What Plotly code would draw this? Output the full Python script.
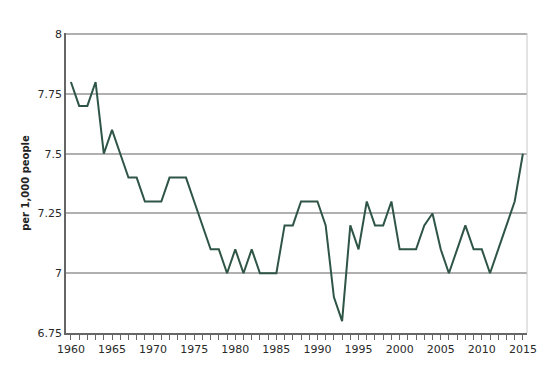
import plotly.graph_objects as go

years = list(range(1960, 2016))
values = [7.8, 7.7, 7.7, 7.8, 7.5, 7.6, 7.5, 7.4, 7.4, 7.3,
          7.3, 7.3, 7.4, 7.4, 7.4, 7.3, 7.2, 7.1, 7.1, 7.0,
          7.1, 7.0, 7.1, 7.0, 7.0, 7.0, 7.2, 7.2, 7.3, 7.3,
          7.3, 7.2, 6.9, 6.8, 7.2, 7.1, 7.3, 7.2, 7.2, 7.3,
          7.1, 7.1, 7.1, 7.2, 7.25, 7.1, 7.0, 7.1, 7.2, 7.1,
          7.1, 7.0, 7.1, 7.2, 7.3, 7.5]
y_ticks = [6.75, 7, 7.25, 7.5, 7.75, 8]
y_labels = ["6.75", "7", "7.25", "7.5", "7.75", "8"]
x_ticks = [1960, 1965, 1970, 1975, 1980, 1985, 1990, 1995, 2000, 2005, 2010, 2015]

fig = go.Figure(go.Scatter(x=years, y=values, mode="lines",
                           line=dict(color="#2e5546", width=2)))

fig.update_layout(
    width=550, height=368,
    margin=dict(l=58, r=31, t=25, b=43),
    plot_bgcolor="white", paper_bgcolor="white",
    font=dict(family="DejaVu Sans", size=11, color="#2a2a2a"),
    showlegend=False,
)
fig.update_xaxes(
    range=[1959.4, 2015.5], tickvals=x_ticks, ticktext=[str(v) for v in x_ticks],
    showgrid=False, showline=True, linecolor="#666666", linewidth=1.5,
    ticks="outside", ticklen=5, tickcolor="#666666",
    minor=dict(dtick=1, tick0=1960, ticks="outside", ticklen=5, tickcolor="#666666", showgrid=False),
    mirror=False, zeroline=False,
)
fig.update_yaxes(
    range=[6.75, 8.005], tickvals=y_ticks, ticktext=y_labels,
    showgrid=True, gridcolor="#b0b0b0", gridwidth=1.5,
    showline=True, linecolor="#666666", linewidth=1.5,
    ticks="", zeroline=False,
    title=dict(text="<b>per 1,000 people</b>", font=dict(size=10, color="#222222"), standoff=6),
)
fig.add_shape(type="line", xref="paper", yref="paper", x0=1, x1=1, y0=0, y1=1,
              line=dict(color="#c8c8c8", width=1))

fig.write_html("out.html")
